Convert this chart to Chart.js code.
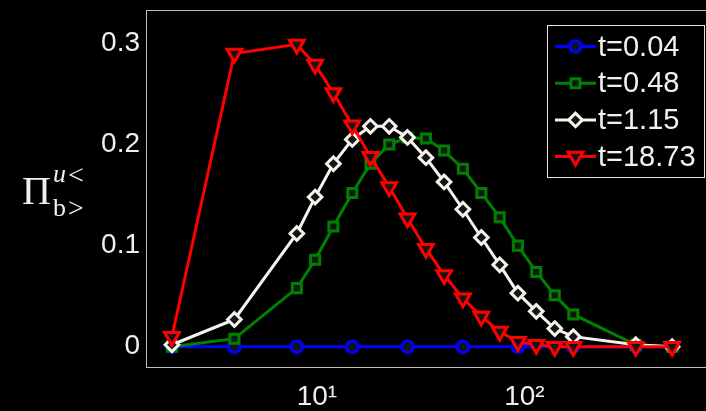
<!DOCTYPE html>
<html>
<head>
<meta charset="utf-8">
<script src="https://cdn.jsdelivr.net/npm/chart.js@4/dist/chart.umd.min.js"></script>
<style>
  html, body { margin: 0; padding: 0; background: #000; overflow: hidden; }
  #wrap { width: 706px; height: 411px; }
</style>
</head>
<body>
<div id="wrap"><canvas id="c" width="706" height="411"></canvas></div>
<script>
// wavenumber grid (log spaced) and the coarser grid used for the earliest time
const kGrid   = [2, 4, 8, 9.8, 12, 14.8, 18.1, 22.3, 27.3, 33.5, 41, 50.5, 62, 76, 93, 114, 140, 172, 344, 515];
const kCoarse = [2, 4, 8, 14.8, 27.3, 50.5, 93, 172, 344, 515];

// flux values for each time
const fluxT004  = [0, 0, 0, 0, 0, 0, 0, 0, 0, 0];
const fluxT048  = [0, 0.008, 0.058, 0.086, 0.119, 0.152, 0.181, 0.200, 0.207, 0.206, 0.194, 0.176, 0.152, 0.128, 0.100, 0.074, 0.051, 0.032, 0.002, 0];
const fluxT115  = [0.002, 0.027, 0.112, 0.148, 0.181, 0.205, 0.218, 0.218, 0.207, 0.187, 0.163, 0.136, 0.108, 0.081, 0.053, 0.035, 0.018, 0.010, 0.002, 0];
const fluxT1873 = [0.010, 0.290, 0.299, 0.279, 0.251, 0.219, 0.188, 0.158, 0.127, 0.097, 0.071, 0.048, 0.030, 0.015, 0.005, 0.002, 0, 0, 0, 0];

const seriesNames = ['t=0.04', 't=0.48', 't=1.15', 't=18.73'];
const yTicks = [0, 0.1, 0.2, 0.3];
const xTicks = [10, 100];

const TEXT = '#f0f0f0';
const FONT = '"Liberation Sans", Arial, sans-serif';
const MARK_FILL = '#141414';

const styles = [
  { color: '#0000ff', pointStyle: 'circle',   radius: 5.8, rotation: 0 },
  { color: '#008000', pointStyle: 'rect',     radius: 6.4, rotation: 0 },
  { color: '#f4f4ec', pointStyle: 'rectRot',  radius: 6.8, rotation: 0 },
  { color: '#ff0000', pointStyle: 'triangle', radius: 8.5, rotation: 180 }
];

function pairs(xs, ys) { return xs.map((x, i) => ({ x: x, y: ys[i] })); }

const seriesData = [
  pairs(kCoarse, fluxT004),
  pairs(kGrid, fluxT048),
  pairs(kGrid, fluxT115),
  pairs(kGrid, fluxT1873)
];

const datasets = seriesData.map((d, i) => ({
  label: seriesNames[i],
  data: d,
  borderColor: styles[i].color,
  borderWidth: 3,
  pointStyle: styles[i].pointStyle,
  pointRotation: styles[i].rotation,
  pointRadius: styles[i].radius,
  pointBorderWidth: 3,
  pointBorderColor: styles[i].color,
  pointBackgroundColor: MARK_FILL,
  tension: 0,
  order: 3 - i
}));

// black page background
const bgPlugin = {
  id: 'bg',
  beforeDraw(chart) {
    const ctx = chart.ctx;
    ctx.save();
    ctx.fillStyle = '#000';
    ctx.fillRect(0, 0, chart.width, chart.height);
    ctx.restore();
  }
};

// axes box (its right side sits just past the canvas edge)
const boxPlugin = {
  id: 'box',
  beforeDatasetsDraw(chart) {
    const a = chart.chartArea, ctx = chart.ctx;
    ctx.save();
    ctx.strokeStyle = '#bdbdbd';
    ctx.lineWidth = 1;
    ctx.strokeRect(a.left + 0.5, a.top + 0.5, a.right - a.left + 1, a.bottom - a.top - 1);
    ctx.restore();
  }
};

function drawMarker(ctx, st, x, y) {
  ctx.save();
  ctx.fillStyle = MARK_FILL;
  ctx.strokeStyle = st.color;
  ctx.lineWidth = 3;
  if (Chart.helpers && Chart.helpers.drawPoint) {
    Chart.helpers.drawPoint(ctx, {
      pointStyle: st.pointStyle, rotation: st.rotation, radius: st.radius, borderWidth: 3
    }, x, y);
  } else {
    ctx.beginPath();
    ctx.arc(x, y, st.radius, 0, Math.PI * 2);
    ctx.fill(); ctx.stroke();
  }
  ctx.restore();
}

// legend box with line + marker samples
const legendPlugin = {
  id: 'lineLegend',
  afterDraw(chart) {
    const ctx = chart.ctx;
    const x0 = 547.5, y0 = 25.5, w = 157, h = 152;
    ctx.save();
    ctx.fillStyle = '#000';
    ctx.fillRect(x0, y0, w, h);
    ctx.strokeStyle = '#e6e6e6';
    ctx.lineWidth = 1;
    ctx.strokeRect(x0, y0, w, h);
    ctx.font = '29px ' + FONT;
    ctx.textBaseline = 'middle';
    ctx.textAlign = 'left';
    seriesNames.forEach((name, i) => {
      const cy = 46.5 + i * 36.7;
      ctx.strokeStyle = styles[i].color;
      ctx.lineWidth = 3;
      ctx.beginPath();
      ctx.moveTo(555, cy);
      ctx.lineTo(596, cy);
      ctx.stroke();
      drawMarker(ctx, styles[i], 575.5, cy);
      ctx.fillStyle = TEXT;
      ctx.fillText(name, 598, cy + 1);
    });
    ctx.restore();
  }
};

// y-axis title: Pi with sub/superscripts
const yTitlePlugin = {
  id: 'yTitle',
  afterDraw(chart) {
    const ctx = chart.ctx;
    ctx.save();
    ctx.fillStyle = TEXT;
    ctx.textBaseline = 'alphabetic';
    ctx.textAlign = 'left';
    ctx.font = '40px "Liberation Serif", serif';
    ctx.fillText('Π', 22, 204);
    ctx.font = 'italic 26px "Liberation Serif", serif';
    ctx.fillText('u', 53, 182);
    ctx.font = '28px "Liberation Serif", serif';
    ctx.fillText('<', 68, 184);
    ctx.font = '26px "Liberation Serif", serif';
    ctx.fillText('b', 53, 216);
    ctx.font = '28px "Liberation Serif", serif';
    ctx.fillText('>', 68, 217);
    ctx.restore();
  }
};

new Chart(document.getElementById('c'), {
  type: 'line',
  data: { datasets: datasets },
  options: {
    responsive: false,
    animation: false,
    devicePixelRatio: 1,
    layout: { autoPadding: false, padding: { left: 0, right: 0, top: 10, bottom: 0 } },
    plugins: { legend: { display: false }, tooltip: { enabled: false } },
    scales: {
      x: {
        type: 'logarithmic',
        min: 1.5,
        max: 750,
        grid: { display: false, drawTicks: false },
        border: { display: false },
        afterFit(s) { s.height = 43; s.paddingLeft = 0; s.paddingRight = 0; },
        afterBuildTicks(s) { s.ticks = xTicks.map(v => ({ value: v })); },
        ticks: {
          color: TEXT,
          font: { family: FONT, size: 28 },
          padding: 12,
          maxRotation: 0,
          autoSkip: false,
          callback(v) { return v === 10 ? '10¹' : (v === 100 ? '10²' : ''); }
        }
      },
      y: {
        type: 'linear',
        min: -0.021,
        max: 0.333,
        grid: { display: false, drawTicks: false },
        border: { display: false },
        afterFit(s) { s.width = 146; s.paddingTop = 0; s.paddingBottom = 0; },
        afterBuildTicks(s) { s.ticks = yTicks.map(v => ({ value: v })); },
        ticks: {
          color: TEXT,
          font: { family: FONT, size: 28 },
          padding: 6,
          callback(v) { return v === 0 ? '0' : v.toFixed(1); }
        }
      }
    }
  },
  plugins: [bgPlugin, boxPlugin, legendPlugin, yTitlePlugin]
});
</script>
</body>
</html>
